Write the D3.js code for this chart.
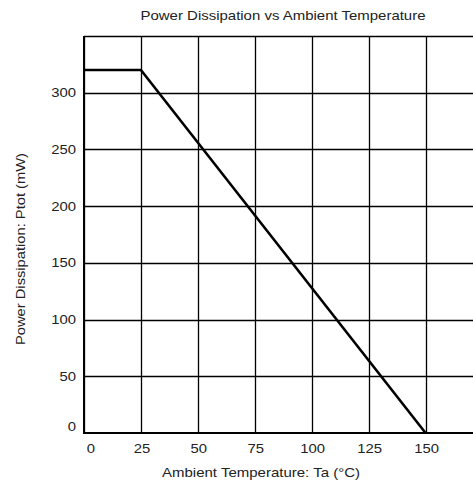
<!DOCTYPE html>
<html>
<head>
<meta charset="utf-8">
<script src="https://cdn.jsdelivr.net/npm/d3@7"></script>
<style>
  body { margin: 0; background: #fff; }
  text { font-family: "Liberation Sans", Arial, sans-serif; fill: #222; }
</style>
</head>
<body>
<script>
// Derating curve points
var tempC = [0, 25, 150];
var powerMW = [320, 320, 0];

// Axis ticks
var xTicks = [0, 25, 50, 75, 100, 125, 150];
var xGrid = [0, 25, 50, 75, 100, 125, 150, 175];
var yTicks = [0, 50, 100, 150, 200, 250, 300];
var yGrid = [50, 100, 150, 200, 250, 300, 350];

var w = 473, h = 484;
var fs = '12.6px';
var stretch = 1.18;

var svg = d3.select('body')
  .append('svg')
  .attr('width', w)
  .attr('height', h);

var x = d3.scaleLinear().domain([0, 175]).range([84, 482.5]);
var y = d3.scaleLinear().domain([0, 350]).range([433, 36]);

// grid lines
svg.selectAll('.vgrid')
  .data(xGrid)
  .enter()
  .append('line')
  .attr('class', 'vgrid')
  .attr('x1', function(d) { return Math.round(x(d)) + 0.5; })
  .attr('x2', function(d) { return Math.round(x(d)) + 0.5; })
  .attr('y1', y(350))
  .attr('y2', y(0))
  .attr('stroke', '#000')
  .attr('stroke-width', 1.3);

svg.selectAll('.hgrid')
  .data(yGrid)
  .enter()
  .append('line')
  .attr('class', 'hgrid')
  .attr('x1', x(0))
  .attr('x2', x(175))
  .attr('y1', function(d) { return Math.round(y(d)) + 0.5; })
  .attr('y2', function(d) { return Math.round(y(d)) + 0.5; })
  .attr('stroke', '#000')
  .attr('stroke-width', 1.3);

// axes lines (left and bottom)
svg.append('line')
  .attr('x1', x(0)).attr('x2', x(0))
  .attr('y1', y(350)).attr('y2', y(0) + 1)
  .attr('stroke', '#000').attr('stroke-width', 2);
svg.append('line')
  .attr('x1', x(0) - 1).attr('x2', x(175))
  .attr('y1', y(0)).attr('y2', y(0))
  .attr('stroke', '#000').attr('stroke-width', 2);

// data line
var pts = tempC.map(function(t, i) { return [t, powerMW[i]]; });
var line = d3.line()
  .x(function(d) { return x(d[0]); })
  .y(function(d) { return y(d[1]); });

svg.append('path')
  .datum(pts)
  .attr('d', line)
  .attr('fill', 'none')
  .attr('stroke', '#000')
  .attr('stroke-width', 2.6)
  .attr('stroke-linejoin', 'round');

// tick labels (font in the original renders wider, so stretch horizontally)
svg.selectAll('.xlab')
  .data(xTicks)
  .enter()
  .append('text')
  .attr('class', 'xlab')
  .attr('transform', function(d) {
    var px = d === 0 ? x(d) + 7 : x(d) + 1;
    return 'translate(' + px + ',453) scale(' + stretch + ',1)';
  })
  .attr('text-anchor', 'middle')
  .attr('font-size', fs)
  .text(function(d) { return d; });

svg.selectAll('.ylab')
  .data(yTicks)
  .enter()
  .append('text')
  .attr('class', 'ylab')
  .attr('transform', function(d) {
    var py = d === 0 ? y(d) - 2.5 : y(d) + 4.5;
    return 'translate(76,' + py + ') scale(' + stretch + ',1)';
  })
  .attr('text-anchor', 'end')
  .attr('font-size', fs)
  .text(function(d) { return d; });

// titles
svg.append('text')
  .attr('x', 283)
  .attr('y', 20)
  .attr('text-anchor', 'middle')
  .attr('font-size', fs)
  .attr('textLength', 285)
  .attr('lengthAdjust', 'spacingAndGlyphs')
  .text('Power Dissipation vs Ambient Temperature');

svg.append('text')
  .attr('x', 261)
  .attr('y', 477)
  .attr('text-anchor', 'middle')
  .attr('font-size', fs)
  .attr('textLength', 198)
  .attr('lengthAdjust', 'spacingAndGlyphs')
  .text('Ambient Temperature: Ta (\u00B0C)');

svg.append('text')
  .attr('transform', 'translate(25,249) rotate(-90)')
  .attr('text-anchor', 'middle')
  .attr('font-size', fs)
  .attr('textLength', 192)
  .attr('lengthAdjust', 'spacingAndGlyphs')
  .text('Power Dissipation: Ptot (mW)');
</script>
</body>
</html>
